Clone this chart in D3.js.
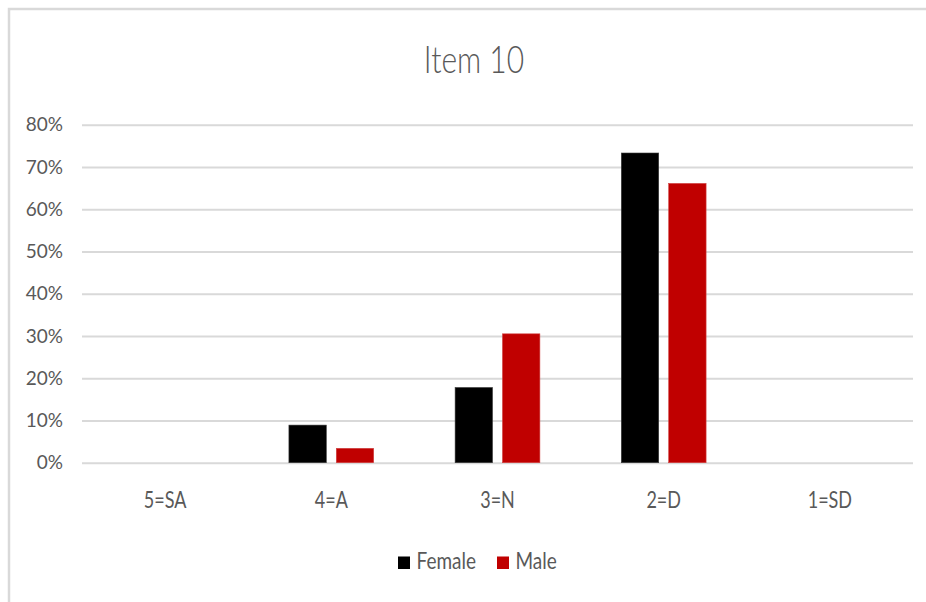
<!DOCTYPE html>
<html>
<head>
<meta charset="utf-8">
<script src="https://cdn.jsdelivr.net/npm/d3@7"></script>
<style>
  html, body { margin: 0; padding: 0; background: #fff; }
  svg { display: block; }
  text { font-family: Lato, "Open Sans", sans-serif; fill: #595959; }
</style>
</head>
<body>
<svg id="chart" width="926" height="602"></svg>
<script>
// Survey responses for Item 10, share of each group choosing each answer
const categories = ["5=SA", "4=A", "3=N", "2=D", "1=SD"];
const seriesNames = ["Female", "Male"];
const femaleValues = [0, 0.089, 0.178, 0.733, 0];
const maleValues = [0, 0.034, 0.305, 0.661, 0];
const tickValues = [0, 0.1, 0.2, 0.3, 0.4, 0.5, 0.6, 0.7, 0.8];
const seriesColors = ["#000000", "#c00000"];
const chartTitle = "Item 10";

const svg = d3.select("#chart");
const W = 926, H = 602;
const plot = { left: 82, right: 913, top: 124.7, bottom: 462.7 };

// chart frame (left and top edges visible)
svg.append("rect")
  .attr("x", 9).attr("y", 9)
  .attr("width", W + 20).attr("height", H + 20)
  .attr("fill", "none")
  .attr("stroke", "#d9d9d9")
  .attr("stroke-width", 2.5);

const y = d3.scaleLinear().domain([0, 0.8]).range([plot.bottom, plot.top]);
const x0 = d3.scaleBand().domain(categories)
  .range([plot.left, plot.right])
  .paddingInner(0.49).paddingOuter(0.245);
const x1 = d3.scaleBand().domain(seriesNames)
  .range([0, x0.bandwidth()])
  .paddingInner(0.211);
const color = d3.scaleOrdinal().domain(seriesNames).range(seriesColors);

// gridlines + y tick labels
const yAxis = d3.axisLeft(y)
  .tickValues(tickValues)
  .tickSize(-(plot.right - plot.left))
  .tickPadding(19)
  .tickFormat(d3.format(".0%"));

const gy = svg.append("g")
  .attr("transform", `translate(${plot.left},0)`)
  .call(yAxis);
gy.select(".domain").remove();
gy.selectAll(".tick line").attr("stroke", "#d9d9d9").attr("stroke-width", 2);
gy.selectAll(".tick text")
  .attr("font-size", 19)
  .style("font-family", "Lato, 'Open Sans', sans-serif")
  .attr("fill", "#595959");

// bars
const rows = categories.map((c, i) => ({ cat: c, vals: [femaleValues[i], maleValues[i]] }));
const groups = svg.append("g").selectAll("g")
  .data(rows).join("g")
  .attr("transform", d => `translate(${x0(d.cat)},0)`);

groups.selectAll("rect")
  .data(d => d.vals.map((v, j) => ({ name: seriesNames[j], v })))
  .join("rect")
  .filter(d => d.v > 0)
  .attr("x", d => x1(d.name))
  .attr("y", d => y(d.v))
  .attr("width", x1.bandwidth())
  .attr("height", d => y(0) - y(d.v))
  .attr("fill", d => color(d.name))
  .attr("stroke", d => d.name === "Female" ? "#3a3a3a" : "#d04040")
  .attr("stroke-width", 0.6);

// category labels
const stretch = (sel, sy) => sel.attr("transform", function () {
  const tx = +this.getAttribute("data-x"), ty = +this.getAttribute("data-y");
  return `translate(${tx},${ty}) scale(1,${sy})`;
});

svg.append("g").selectAll("text")
  .data(categories).join("text")
  .attr("data-x", d => x0(d) + x0.bandwidth() / 2)
  .attr("data-y", 508.3)
  .attr("text-anchor", "middle")
  .attr("font-size", 18)
  .text(d => d)
  .call(stretch, 1.3);

// title
svg.append("text")
  .attr("data-x", 474)
  .attr("data-y", 73.3)
  .attr("text-anchor", "middle")
  .attr("font-size", 30)
  .style("font-weight", 300)
  .text(chartTitle)
  .call(stretch, 1.23);

// legend
const legendPos = [398, 497];
const lg = svg.append("g").selectAll("g")
  .data(seriesNames).join("g")
  .attr("transform", (d, i) => `translate(${legendPos[i]},0)`);
lg.append("rect")
  .attr("x", 0).attr("y", 556.5)
  .attr("width", 12).attr("height", 12.5)
  .attr("fill", d => color(d));
lg.append("text")
  .attr("data-x", 18.5)
  .attr("data-y", 569.3)
  .attr("font-size", 19)
  .text(d => d)
  .call(stretch, 1.17);
</script>
</body>
</html>
